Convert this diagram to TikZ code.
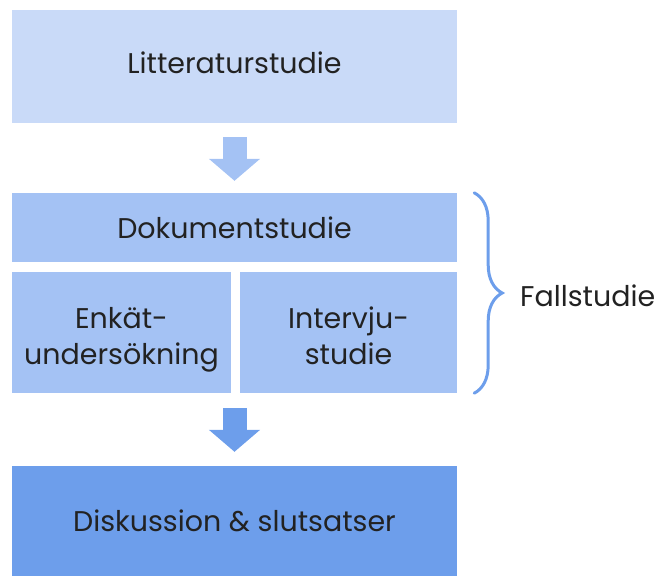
\documentclass[tikz,border=0pt]{standalone}
\usepackage{fontspec}
\setmainfont{Poppins}
\usetikzlibrary{arrows.meta,calc,decorations.pathreplacing}
\definecolor{cA}{HTML}{C9DAF8}
\definecolor{cB}{HTML}{A4C2F4}
\definecolor{cC}{HTML}{6D9EEB}
\definecolor{txt}{HTML}{222222}
\newcommand{\shiftv}[2]{\raisebox{#1}[\height][\depth]{#2}}
\newcommand{\twolines}[2]{\shiftv{-7pt}{\begin{tabular}{@{}c@{}}#1\\[1pt]#2\end{tabular}}}
\tikzset{
  x=1pt,y=1pt,
  box/.style={rectangle,inner sep=0pt,align=center,text=txt,font=\fontsize{28.5}{35}\selectfont},
  blockarrow/.style={line width=24pt,-{Triangle[length=22pt,width=50pt]}},
  bracestyle/.style={draw=cC,line width=3pt,line cap=round,decorate,decoration={brace,amplitude=28pt}}
}
\begin{document}
\begin{tikzpicture}
\useasboundingbox (0,0) rectangle (662,-576);
\node[box,fill=cA,minimum width=445pt,minimum height=113pt] (lit) at (234.5,-66.5) {\shiftv{4pt}{Litteraturstudie}};
\node[box,fill=cB,minimum width=445pt,minimum height=69pt] (dok) at (234.5,-227.5) {Dokumentstudie};
\node[box,fill=cB,minimum width=219pt,minimum height=121pt] (enk) at (121.5,-332.5) {\twolines{Enkät-}{undersökning}};
\node[box,fill=cB,minimum width=217pt,minimum height=121pt] (int) at (348.5,-332.5) {\twolines{Intervju-}{studie}};
\node[box,fill=cC,minimum width=445pt,minimum height=110pt] (dis) at (234.5,-521) {Diskussion \& slutsatser};
\node[box,anchor=west] (fall) at (520,-296) {Fallstudie};
\draw[blockarrow,cB] ($(lit.south)+(0,-14)$) -- ($(dok.north)+(0,12)$);
\draw[blockarrow,cC] ($(dok.center |- enk.south)+(0,-15)$) -- ($(dis.north)+(0,14)$);
\draw[bracestyle] ($(dok.north east)+(17,0)$) -- ($(int.south east)+(17,0)$);
\end{tikzpicture}
\end{document}
